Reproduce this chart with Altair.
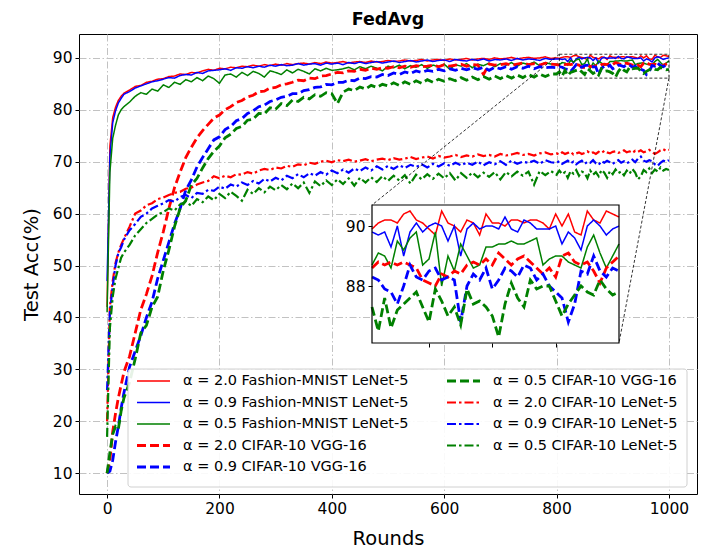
import altair as alt
import pandas as pd

ROUNDS = [0, 5, 10, 15, 20, 25, 30] + list(range(40, 800, 10)) + list(range(800, 1001, 5))

LABELS = [
    "α = 2.0 Fashion-MNIST LeNet-5",
    "α = 0.9 Fashion-MNIST LeNet-5",
    "α = 0.5 Fashion-MNIST LeNet-5",
    "α = 2.0 CIFAR-10 VGG-16",
    "α = 0.9 CIFAR-10 VGG-16",
    "α = 0.5 CIFAR-10 VGG-16",
    "α = 2.0 CIFAR-10 LeNet-5",
    "α = 0.9 CIFAR-10 LeNet-5",
    "α = 0.5 CIFAR-10 LeNet-5",
]
KIND = ["solid"] * 3 + ["dashed"] * 3 + ["dashdot"] * 3
COLORS = ["#ff0000", "#0000ff", "#008000"] * 3
DASHES = [[1, 0]] * 3 + [[9, 4]] * 3 + [[9, 3, 2.5, 3]] * 3

# ---- FMNIST LeNet-5 ----
S1 = [42.0, 73.0, 78.5, 80.5, 81.8, 82.6, 83.2] + [
    83.8, 84.5, 84.7, 85.3, 85.5, 85.9, 86.0, 86.4, 86.5, 86.9,
    86.8, 87.2, 87.1, 87.5, 87.8, 87.6, 88.0, 87.9, 88.2, 88.1,
    88.4, 88.3, 88.6, 88.4, 88.7, 88.5, 88.8, 88.6, 88.9, 88.7,
    88.9, 89.0, 88.8, 89.1, 88.9, 89.2, 89.0, 89.1, 89.3, 89.0,
    89.2, 89.3, 89.1, 89.4, 89.2, 89.3, 89.5, 89.3, 89.4, 89.6,
    89.4, 89.5, 89.7, 89.4, 89.6, 89.7, 89.5, 89.8, 89.6, 89.7,
    89.9, 89.6, 89.8, 89.9, 89.7, 90.0, 89.8, 89.9, 90.1, 89.8,
    90.0, 90.1, 89.9, 90.0, 90.2, 89.9] + [
    90.0, 89.9, 90.1, 90.2, 90.2, 90.1, 90.4, 90.5, 90.2, 90.1,
    89.9, 89.7, 90.5, 90.1, 90.0, 89.8, 90.2, 90.1, 89.7, 90.4,
    90.1, 90.1, 90.0, 90.2, 90.2, 90.1, 90.2, 90.2, 90.1, 89.9,
    90.4, 90.0, 90.4, 89.8, 89.7, 90.5, 90.2, 90.1, 90.5, 90.4,
    90.3]
S2 = [47.0, 71.0, 77.5, 79.8, 81.3, 82.2, 83.0] + [
    83.5, 84.2, 84.6, 85.0, 85.4, 85.6, 85.9, 86.2, 86.1, 86.6,
    86.8, 86.7, 87.2, 87.0, 87.5, 87.6, 87.7, 87.9, 87.6, 88.1,
    88.0, 88.3, 88.1, 88.4, 88.2, 88.6, 88.4, 88.7, 88.5, 88.6,
    88.9, 88.6, 88.8, 88.9, 88.6, 89.0, 88.8, 89.0, 88.7, 89.1,
    88.9, 89.2, 88.9, 89.1, 89.3, 89.0, 89.2, 89.4, 89.1, 89.3,
    89.5, 89.2, 89.4, 89.6, 89.3, 89.5, 89.6, 89.3, 89.7, 89.5,
    89.4, 89.7, 89.5, 89.8, 89.4, 89.7, 89.6, 89.8, 89.5, 89.9,
    89.6, 89.8, 89.7, 89.5, 89.9, 89.7] + [
    89.8, 89.8, 89.7, 89.8, 89.3, 90.0, 89.0, 89.8, 90.1, 89.8,
    90.0, 90.1, 90.0, 89.5, 90.0, 89.0, 89.9, 90.1, 89.9, 90.0,
    90.0, 89.9, 90.3, 89.9, 89.8, 90.2, 90.1, 89.9, 89.9, 89.9,
    90.0, 89.4, 89.8, 89.6, 89.2, 90.0, 90.2, 90.0, 89.7, 89.9,
    90.0]
S3 = [41.0, 68.0, 74.5, 77.0, 79.0, 80.0, 80.6] + [
    81.5, 82.6, 83.3, 83.0, 84.0, 83.6, 84.8, 84.3, 85.3, 84.9,
    85.8, 85.4, 86.2, 85.6, 86.5, 86.0, 85.1, 86.7, 86.9, 86.3,
    87.2, 86.6, 87.4, 87.0, 86.3, 87.5, 87.2, 86.8, 87.7, 87.1,
    87.8, 87.4, 86.9, 87.9, 87.5, 88.0, 87.6, 87.7, 87.9, 88.2,
    87.7, 88.3, 87.9, 88.4, 88.0, 87.5, 88.4, 88.1, 88.6, 87.9,
    88.5, 88.2, 88.7, 88.0, 88.6, 88.3, 88.8, 87.8, 88.7, 88.4,
    88.9, 88.1, 88.8, 88.5, 89.0, 88.3, 88.9, 88.6, 89.1, 88.4,
    89.0, 88.7, 89.2, 88.5, 89.1, 88.8] + [
    88.8, 88.7, 89.1, 89.0, 88.6, 89.5, 89.2, 89.6, 89.8, 88.7,
    88.9, 89.8, 88.0, 89.0, 88.5, 89.4, 89.0, 88.6, 88.7, 89.3,
    89.3, 89.4, 89.4, 89.5, 89.4, 89.4, 89.5, 89.6, 88.7, 88.9,
    89.0, 89.0, 88.8, 88.7, 88.6, 89.3, 89.7, 89.1, 88.6, 89.0,
    89.4]
# ---- CIFAR-10 VGG-16 ----
S4 = [10.0, 12.5, 18.0, 21.5, 24.5, 27.0, 29.5] + [
    32.5, 37.0, 41.5, 44.5, 48.0, 52.5, 56.5, 61.0, 65.0, 68.0,
    70.8, 72.8, 74.6, 76.0, 77.2, 78.4, 79.0, 80.0, 80.6, 81.4,
    81.8, 82.5, 82.8, 83.5, 83.6, 84.2, 84.3, 84.8, 85.0, 85.3,
    85.7, 85.6, 86.1, 86.0, 86.5, 86.6, 86.9, 87.2, 87.1, 87.5,
    87.4, 87.8, 87.6, 88.0, 87.8, 88.1, 88.0, 88.3, 88.1, 88.4,
    88.2, 88.5, 88.3, 88.4, 88.6, 88.3, 88.7, 88.4, 88.6, 88.8,
    88.4, 88.7, 88.6, 86.8, 88.8, 88.6, 88.7, 88.9, 88.6, 88.8,
    89.0, 88.7, 88.9, 88.6, 89.0, 88.8] + [
    88.7, 88.6, 88.8, 88.7, 88.8, 88.7, 88.8, 88.7, 88.6, 88.2,
    88.1, 88.0, 88.4, 88.3, 88.5, 88.4, 88.7, 88.8, 88.7, 88.9,
    88.7, 89.1, 88.9, 88.7, 88.9, 89.0, 88.8, 88.6, 88.4, 88.6,
    88.3, 89.0, 89.1, 88.8, 88.7, 88.8, 88.5, 88.1, 88.6, 88.8,
    89.0]
S5 = [10.0, 10.4, 12.5, 16.0, 19.0, 22.5, 25.5] + [
    30.5, 33.5, 36.5, 40.0, 43.0, 47.5, 51.0, 54.5, 58.0, 61.0,
    64.5, 66.5, 69.0, 70.8, 72.5, 74.2, 74.8, 76.2, 76.8, 77.9,
    78.3, 79.3, 79.8, 80.6, 80.9, 81.6, 81.9, 82.4, 82.6, 83.1,
    83.1, 83.7, 83.9, 84.3, 84.4, 84.9, 84.8, 85.3, 85.3, 85.7,
    85.6, 86.1, 86.0, 86.4, 86.3, 86.8, 86.6, 87.1, 86.8, 87.3,
    87.0, 87.5, 87.2, 87.6, 87.4, 87.8, 87.5, 87.9, 87.6, 88.0,
    87.7, 88.1, 87.8, 88.2, 87.6, 88.2, 87.9, 88.3, 87.8, 88.3,
    88.0, 88.4, 87.9, 88.3, 88.1, 88.2] + [
    88.1, 88.3, 88.2, 87.9, 87.8, 87.4, 88.0, 88.7, 88.3, 88.2,
    88.5, 88.6, 88.2, 88.3, 88.2, 86.8, 88.0, 88.4, 88.2, 88.6,
    87.9, 88.2, 88.6, 88.5, 88.3, 88.7, 88.6, 88.2, 88.4, 88.0,
    87.8, 87.6, 86.8, 87.4, 88.5, 88.4, 89.0, 88.5, 88.3, 88.6,
    88.5]
S6 = [10.0, 14.0, 17.5, 19.0, 18.5, 22.0, 24.5] + [
    27.5, 32.0, 37.0, 38.5, 42.0, 44.0, 49.0, 53.0, 57.5, 61.0,
    62.5, 65.5, 66.8, 68.8, 70.6, 72.0, 73.0, 74.6, 75.3, 76.4,
    76.8, 78.0, 78.2, 79.3, 79.2, 80.4, 80.1, 81.2, 80.8, 81.9,
    81.6, 82.4, 82.1, 82.9, 82.6, 83.3, 83.1, 81.2, 83.4, 84.0,
    83.7, 84.4, 84.0, 84.7, 84.3, 84.9, 84.6, 85.2, 84.7, 85.4,
    84.9, 85.6, 85.1, 85.8, 85.3, 85.9, 85.5, 86.0, 85.6, 86.2,
    85.7, 86.3, 85.8, 86.4, 85.9, 86.5, 86.0, 86.6, 86.1, 86.7,
    86.2, 86.8, 86.3, 86.9, 86.4, 86.9] + [
    86.9, 87.3, 86.5, 87.6, 86.6, 87.2, 87.4, 87.6, 87.8, 87.3,
    86.8, 87.9, 87.5, 87.0, 87.3, 86.7, 87.9, 87.4, 87.5, 87.3,
    87.0, 86.3, 87.4, 88.1, 87.6, 87.3, 88.2, 87.9, 88.0, 88.0,
    87.5, 87.0, 87.4, 87.7, 88.0, 87.8, 87.7, 88.2, 87.9, 87.7,
    87.8]
# ---- CIFAR-10 LeNet-5 ----
S7 = [20.0, 42.0, 47.0, 50.5, 52.5, 54.0, 55.2] + [
    57.5, 60.0, 60.6, 61.6, 62.0, 62.8, 63.1, 63.6, 64.0, 64.2,
    64.8, 65.0, 65.6, 66.0, 66.3, 67.2, 66.8, 67.3, 67.0, 67.6,
    67.5, 68.0, 67.7, 68.3, 68.6, 68.4, 68.9, 68.7, 69.2, 69.0,
    69.5, 69.3, 69.8, 69.6, 70.0, 70.2, 69.9, 70.3, 70.1, 70.4,
    70.0, 70.2, 70.5, 70.1, 70.4, 70.6, 70.3, 70.7, 70.4, 70.6,
    70.9, 70.5, 70.8, 71.0, 70.6, 71.1, 70.8, 71.0, 71.3, 70.9,
    71.2, 71.0, 71.4, 71.1, 71.3, 71.0, 71.5, 71.2, 71.4, 71.7,
    71.3, 71.5, 71.2, 71.6, 71.8, 71.4] + [
    71.6, 71.4, 71.8, 71.5, 71.7, 71.9, 71.4, 71.6, 71.8, 71.5,
    71.7, 72.0, 71.6, 71.8, 71.5, 71.9, 71.7, 72.1, 71.8, 71.6,
    71.9, 72.0, 71.7, 71.9, 72.2, 71.8, 72.0, 71.7, 72.1, 71.9,
    72.2, 71.8, 72.0, 72.3, 71.9, 71.5, 71.8, 72.2, 72.4, 72.1,
    72.3]
S8 = [26.0, 41.0, 46.0, 50.0, 52.4, 53.5, 55.0] + [
    56.8, 58.0, 59.4, 60.0, 61.0, 61.5, 62.0, 62.6, 62.3, 63.2,
    63.6, 63.0, 64.0, 63.8, 64.6, 64.4, 65.2, 64.8, 65.6, 65.2,
    66.0, 65.5, 66.3, 65.8, 66.7, 66.2, 66.9, 66.4, 67.3, 66.8,
    67.6, 67.0, 67.8, 67.3, 68.0, 67.5, 68.3, 67.8, 68.5, 67.9,
    68.7, 68.2, 68.9, 68.3, 69.1, 68.5, 69.2, 68.6, 69.3, 68.8,
    69.4, 69.0, 69.5, 68.9, 69.6, 69.1, 69.7, 69.2, 69.8, 69.3,
    69.8, 69.4, 70.0, 69.3, 69.9, 69.5, 70.1, 69.4, 70.2, 69.6,
    70.0, 69.8, 70.2, 69.6, 70.3, 69.9] + [
    69.8, 70.1, 69.6, 69.9, 70.2, 69.7, 70.0, 69.5, 69.9, 70.2,
    69.6, 70.0, 69.8, 70.3, 69.7, 69.4, 70.1, 69.8, 70.2, 69.9,
    69.6, 70.0, 70.3, 69.8, 70.1, 69.7, 70.0, 70.4, 69.9, 70.6,
    71.0, 70.2, 70.0, 70.3, 70.1, 69.5, 69.2, 69.8, 70.2, 70.0,
    70.3]
S9 = [17.0, 38.0, 44.0, 47.5, 49.5, 51.5, 52.5] + [
    54.0, 55.8, 57.0, 58.2, 59.0, 59.8, 60.3, 61.0, 60.6, 61.8,
    62.3, 61.5, 62.8, 62.2, 63.3, 62.6, 63.8, 63.0, 64.2, 63.4,
    62.5, 64.6, 63.8, 64.9, 64.1, 65.2, 64.5, 65.5, 64.7, 65.8,
    64.9, 66.0, 64.0, 66.2, 65.3, 66.4, 65.5, 66.6, 65.7, 66.8,
    65.4, 66.9, 66.0, 67.0, 66.1, 67.2, 66.3, 67.3, 66.4, 67.4,
    65.8, 67.5, 66.6, 67.6, 66.7, 67.7, 66.8, 67.8, 66.4, 67.8,
    66.9, 67.9, 67.0, 67.9, 67.1, 68.0, 66.6, 68.0, 67.2, 68.1,
    67.3, 68.1, 65.6, 68.2, 67.4, 68.2] + [
    67.5, 68.3, 67.6, 68.0, 66.9, 68.2, 67.7, 68.4, 67.3, 68.1,
    67.8, 66.8, 68.3, 67.5, 68.0, 67.2, 68.4, 67.9, 66.9, 68.2,
    67.6, 68.5, 67.8, 68.1, 67.4, 68.3, 67.7, 68.6, 67.9, 66.6,
    67.2, 68.4, 68.0, 68.7, 67.8, 68.5, 68.1, 68.9, 68.3, 68.6,
    68.4]

SERIES = [S1, S2, S3, S4, S5, S6, S7, S8, S9]
for lab, s in zip(LABELS, SERIES):
    assert len(s) == len(ROUNDS), (lab, len(s), len(ROUNDS))

rows = []
for i, (lab, s) in enumerate(zip(LABELS, SERIES)):
    for r, v in zip(ROUNDS, s):
        rows.append({"round": r, "acc": v, "series": lab, "kind": KIND[i], "idx": i})
df = pd.DataFrame(rows)

# ---- layout ----
W, H = 618, 460
XMIN, XMAX = -50, 1050
YMIN, YMAX = 6.0, 94.6
ZX = [805, 1000]
ZY = [86.1, 90.7]
IX0, IX1, IY0, IY1 = 293, 540, 171, 309  # inset box in plot pixels

# legend layout (plot pixels)
LEG_BOX = (49, 335, 608, 453)
LEG_COLX = [58, 368]
LEG_ROW0, LEG_ROWSTEP = 347, 21.5
LEG_SYM, LEG_GAP = 33, 13

FONT = "DejaVu Sans"
color_scale = alt.Scale(domain=LABELS, range=COLORS)
dash_scale = alt.Scale(domain=LABELS, range=DASHES)

main_x = alt.Scale(domain=[XMIN, XMAX], nice=False, zero=False)
main_y = alt.Scale(domain=[YMIN, YMAX], nice=False, zero=False)
ins_x = alt.Scale(domain=ZX, range=[IX0, IX1], nice=False, zero=False)
ins_y = alt.Scale(domain=ZY, range=[IY1, IY0], nice=False, zero=False)

GRID = dict(grid=True, gridColor="#c2c2c2", gridDash=[7, 2.5, 1.5, 2.5], gridWidth=1)
main_xaxis = alt.Axis(values=list(range(0, 1001, 200)), title="Rounds", domain=False,
                      orient="bottom", tickSize=4, labelPadding=3, titlePadding=13,
                      format="d", **GRID)
main_yaxis = alt.Axis(values=list(range(10, 91, 10)), title="Test Acc(%)", domain=False,
                      orient="left", tickSize=4, labelPadding=3, titlePadding=11,
                      format="d", **GRID)
ins_xaxis = alt.Axis(values=[850, 900, 950], labels=False, title=None, domain=False,
                     grid=False, tickSize=4, orient="bottom", offset=-(H - IY1), zindex=2)
ins_yaxis = alt.Axis(values=[88, 90], title=None, domain=False, grid=False, tickSize=4,
                     orient="left", offset=-IX0, labelPadding=3, format="d", zindex=2)

WIDTH = {"solid": 1.5, "dashed": 2.8, "dashdot": 2.2}
COLOR_ENC = alt.Color("series:N", scale=color_scale, legend=None)
DASH_ENC = alt.StrokeDash("series:N", scale=dash_scale, legend=None)


def lines(data, kind, xs, ys, xaxis=None, yaxis=None):
    return alt.Chart(data[data["kind"] == kind]).mark_line(strokeWidth=WIDTH[kind]).encode(
        x=alt.X("round:Q", scale=xs, axis=xaxis),
        y=alt.Y("acc:Q", scale=ys, axis=yaxis),
        color=COLOR_ENC, strokeDash=DASH_ENC,
    )


box_df = pd.DataFrame({"x0": [ZX[0]], "x1": [ZX[1]], "y0": [ZY[0]], "y1": [ZY[1]]})


def rect(xs, ys, **kw):
    return alt.Chart(box_df).mark_rect(**kw).encode(
        x=alt.X("x0:Q", scale=xs, axis=None), x2="x1:Q",
        y=alt.Y("y0:Q", scale=ys, axis=None), y2="y1:Q")


def mx(r):
    return (r - XMIN) / (XMAX - XMIN) * W


def my(v):
    return (YMAX - v) / (YMAX - YMIN) * H


conn_df = pd.DataFrame({
    "x": [mx(ZX[0]), mx(ZX[1])], "y": [my(ZY[1]), my(ZY[0])],
    "x2": [IX0, IX1], "y2": [IY0, IY1]})
conn = alt.Chart(conn_df).mark_rule(color="black", strokeWidth=0.8, strokeDash=[3, 2]).encode(
    x=alt.X("x:Q", scale=None, axis=None), x2="x2:Q",
    y=alt.Y("y:Q", scale=None, axis=None), y2="y2:Q")

ins_df = df[(df["round"] >= ZX[0]) & (df["idx"] < 6)]

# ---- hand-laid legend (matplotlib style: 2 columns, filled column-first) ----
leg_rows = []
for i, lab in enumerate(LABELS):
    col, row = (0, i) if i < 5 else (1, i - 5)
    x0 = LEG_COLX[col]
    leg_rows.append({"series": lab, "kind": KIND[i], "sx": x0, "sx2": x0 + LEG_SYM,
                     "tx": x0 + LEG_SYM + LEG_GAP, "ty": LEG_ROW0 + row * LEG_ROWSTEP})
leg_df = pd.DataFrame(leg_rows)

leg_frame = alt.Chart(pd.DataFrame({"a": [0]})).mark_rect(
    fill="white", stroke="#cccccc", strokeWidth=1, cornerRadius=3, opacity=0.9).encode(
    x=alt.value(LEG_BOX[0]), x2=alt.value(LEG_BOX[2]),
    y=alt.value(LEG_BOX[1]), y2=alt.value(LEG_BOX[3]))


def leg_lines(kind):
    return alt.Chart(leg_df[leg_df["kind"] == kind]).mark_rule(strokeWidth=WIDTH[kind]).encode(
        x=alt.X("sx:Q", scale=None, axis=None), x2="sx2:Q",
        y=alt.Y("ty:Q", scale=None, axis=None),
        color=COLOR_ENC, strokeDash=DASH_ENC)


leg_text = alt.Chart(leg_df).mark_text(
    align="left", baseline="middle", font=FONT, fontSize=14.5, color="black").encode(
    x=alt.X("tx:Q", scale=None, axis=None), y=alt.Y("ty:Q", scale=None, axis=None),
    text="series:N")

chart = alt.layer(
    lines(df, "solid", main_x, main_y, main_xaxis, main_yaxis),
    lines(df, "dashed", main_x, main_y),
    lines(df, "dashdot", main_x, main_y),
    rect(main_x, main_y, fillOpacity=0, stroke="black", strokeWidth=0.8, strokeDash=[3, 2]),
    conn,
    rect(ins_x, ins_y, fill="white", strokeOpacity=0),
    lines(ins_df, "solid", ins_x, ins_y, ins_xaxis, ins_yaxis),
    lines(ins_df, "dashed", ins_x, ins_y),
    rect(ins_x, ins_y, fillOpacity=0, stroke="black", strokeWidth=1.2),
    leg_frame,
    leg_lines("solid"), leg_lines("dashed"), leg_lines("dashdot"),
    leg_text,
).resolve_scale(
    x="independent", y="independent"
).properties(
    width=W, height=H,
    title=alt.TitleParams("FedAvg"),
    padding={"left": 71, "top": 26, "right": 10, "bottom": 55},
    autosize=alt.AutoSizeParams(type="none"),
).configure(font=FONT).configure_view(
    stroke="black", strokeWidth=1
).configure_axis(
    labelFont=FONT, titleFont=FONT, labelFontSize=15.5, titleFontSize=19.5,
    labelColor="black", titleColor="black", titleFontWeight="normal",
    tickColor="black", tickWidth=1,
).configure_title(
    font=FONT, fontSize=17.5, fontWeight="bold", color="black", offset=6, anchor="middle"
)

chart.save("out.html", embed_options={"renderer": "svg", "actions": False})
